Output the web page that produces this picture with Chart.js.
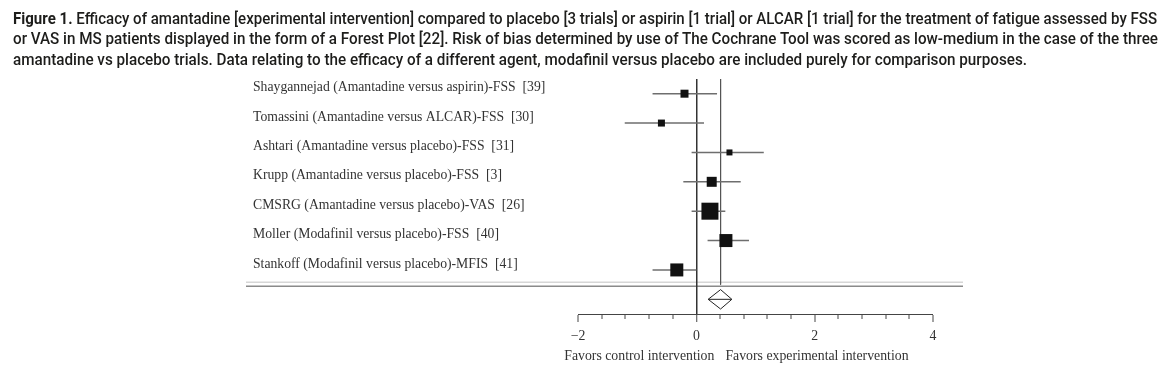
<!DOCTYPE html>
<html>
<head>
<meta charset="utf-8">
<script src="https://cdn.jsdelivr.net/npm/chart.js@4.4.1/dist/chart.umd.min.js"></script>
<style>
  html, body { margin: 0; padding: 0; background: #fff; }
  .wrap { position: relative; width: 1172px; height: 373px; overflow: hidden; }
  canvas { position: absolute; left: 0; top: 0; }
  .caption { position: absolute; left: 13px; top: 8.5px; width: 1160px; font-family: Roboto, sans-serif; font-size: 16px; font-weight: 500; line-height: 20.7px; color: #1d1d1b; }
  .caption div { height: 20.7px; }
  .caption .line { display: inline-block; white-space: nowrap; transform-origin: 0 50%; }
  .caption b { font-weight: 700; }
</style>
</head>
<body>
<div class="wrap">
  <canvas id="forest" width="1172" height="373"></canvas>
  <div class="caption">
    <div><span class="line" data-w="1144"><b>Figure 1.</b> Efficacy of amantadine [experimental intervention] compared to placebo [3 trials] or aspirin [1 trial] or ALCAR [1 trial] for the treatment of fatigue assessed by FSS</span></div>
    <div><span class="line" data-w="1145">or VAS in MS patients displayed in the form of a Forest Plot [22]. Risk of bias determined by use of The Cochrane Tool was scored as low-medium in the case of the three</span></div>
    <div><span class="line" data-w="1014">amantadine vs placebo trials. Data relating to the efficacy of a different agent, modafinil versus placebo are included purely for comparison purposes.</span></div>
  </div>
</div>
<script>
const studies = [
  'Shaygannejad (Amantadine versus aspirin)-FSS  [39]',
  'Tomassini (Amantadine versus ALCAR)-FSS  [30]',
  'Ashtari (Amantadine versus placebo)-FSS  [31]',
  'Krupp (Amantadine versus placebo)-FSS  [3]',
  'CMSRG (Amantadine versus placebo)-VAS  [26]',
  'Moller (Modafinil versus placebo)-FSS  [40]',
  'Stankoff (Modafinil versus placebo)-MFIS  [41]',
]
const effect = [-0.20, -0.59, 0.56, 0.26, 0.23, 0.50, -0.33]
const lower = [-0.74, -1.21, -0.08, -0.22, -0.08, 0.19, -0.74]
const upper = [0.35, 0.13, 1.14, 0.75, 0.49, 0.89, 0.0]
const weight = [7.3, 5.6, 4.1, 11.4, 33.0, 19.3, 19.3]
const pooled = { est: 0.41, lo: 0.20, hi: 0.60 }
const xLabels = [-2, 0, 2, 4]

const serif = "'Liberation Serif', 'DejaVu Serif', serif"
const pooledRow = studies.length
const sqScale = 17 / Math.sqrt(33) // px of side per sqrt(weight)
const diamondH = 0.33

// ========================= //

const forestDecor = {
  id: 'forestDecor',
  beforeDraw(chart) {
    const { ctx, chartArea, scales } = chart
    const y = scales.y.getPixelForValue(pooledRow - 0.5)
    ctx.save()
    ctx.lineWidth = 1.5
    ctx.strokeStyle = '#d6d6d6'
    ctx.beginPath()
    ctx.moveTo(chartArea.left - 332, y - 2.5)
    ctx.lineTo(chartArea.right + 30, y - 2.5)
    ctx.stroke()
    ctx.strokeStyle = '#8a8a8a'
    ctx.beginPath()
    ctx.moveTo(chartArea.left - 332, y + 1.5)
    ctx.lineTo(chartArea.right + 30, y + 1.5)
    ctx.stroke()
    ctx.restore()
  },
  afterDraw(chart) {
    const { ctx, scales } = chart
    const mid = scales.x.getPixelForValue(pooled.est - 0.02)
    const y = scales.x.top + 42
    ctx.save()
    ctx.font = `13.8px ${serif}`
    ctx.fillStyle = '#333'
    ctx.textBaseline = 'middle'
    ctx.textAlign = 'right'
    ctx.fillText('Favors control intervention', mid - 5, y)
    ctx.textAlign = 'left'
    ctx.fillText('Favors experimental intervention', mid + 6, y)
    ctx.restore()
  },
}

const isMajor = v => xLabels.some(t => Math.abs(t - v) < 1e-6)

new Chart(document.getElementById('forest'), {
  type: 'scatter',
  data: {
    datasets: [
      {
        label: 'Effect',
        data: effect.map((x, i) => ({ x, y: i })),
        pointStyle: 'rect',
        pointRadius: weight.map(w => (Math.sqrt(w) * sqScale) / Math.SQRT2),
        backgroundColor: '#111',
        borderWidth: 0,
        order: 0,
      },
      ...studies.map((s, i) => ({
        label: 'CI ' + i,
        data: [{ x: lower[i], y: i }, { x: upper[i], y: i }],
        showLine: true,
        pointRadius: 0,
        borderColor: '#6e6e6e',
        borderWidth: 1.4,
        order: 2,
      })),
      {
        label: 'Pooled line',
        data: [{ x: pooled.est, y: -0.5 }, { x: pooled.est, y: pooledRow - 0.5 }],
        showLine: true,
        pointRadius: 0,
        borderColor: '#555',
        borderWidth: 1,
        order: 3,
      },
      {
        label: 'Pooled',
        data: [
          { x: pooled.lo, y: pooledRow },
          { x: pooled.est, y: pooledRow - diamondH },
          { x: pooled.hi, y: pooledRow },
          { x: pooled.est, y: pooledRow + diamondH },
          { x: pooled.lo, y: pooledRow },
          { x: pooled.hi, y: pooledRow },
        ],
        showLine: true,
        pointRadius: 0,
        borderColor: '#222',
        borderWidth: 1,
        order: 1,
      },
    ],
  },
  options: {
    responsive: false,
    animation: false,
    layout: { padding: { left: 253, right: 239, top: 79, bottom: 0 } },
    plugins: { legend: { display: false }, tooltip: { enabled: false } },
    scales: {
      x: {
        type: 'linear',
        min: -2,
        max: 4,
        afterFit: s => { s.height = 59 },
        ticks: {
          stepSize: 0.4,
          autoSkip: false,
          maxRotation: 0,
          padding: 6,
          color: '#333',
          font: { family: serif, size: 13.8 },
          callback: v => (isMajor(v) ? (v < 0 ? '\u2212' : '') + Math.abs(Math.round(v)) : ''),
        },
        grid: {
          tickLength: 8,
          tickColor: '#444',
          tickWidth: 1,
          tickBorderDash: c => (isMajor(c.tick.value) ? [] : [4, 100]),
          color: c => (c.tick && Math.abs(c.tick.value) < 1e-6 ? '#333' : 'rgba(0,0,0,0)'),
          lineWidth: c => (c.tick && Math.abs(c.tick.value) < 1e-6 ? 1.5 : 0),
        },
        border: { display: true, color: '#444', width: 1 },
      },
      y: {
        type: 'linear',
        reverse: true,
        min: -0.5,
        max: pooledRow + 0.5,
        afterFit: s => { s.width = 325 },
        afterBuildTicks: s => { s.ticks = studies.map((_, i) => ({ value: i })) },
        ticks: {
          crossAlign: 'far',
          padding: 0,
          labelOffset: -6,
          color: '#333',
          font: { family: serif, size: 13.7 },
          callback: v => studies[v] ?? '',
        },
        grid: { display: false },
        border: { display: false },
      },
    },
  },
  plugins: [forestDecor],
})

// fit caption lines to the original widths
document.querySelectorAll('.caption .line').forEach(el => {
  const w = el.getBoundingClientRect().width
  el.style.transform = `scaleX(${+el.dataset.w / w})`
})
</script>
</body>
</html>
